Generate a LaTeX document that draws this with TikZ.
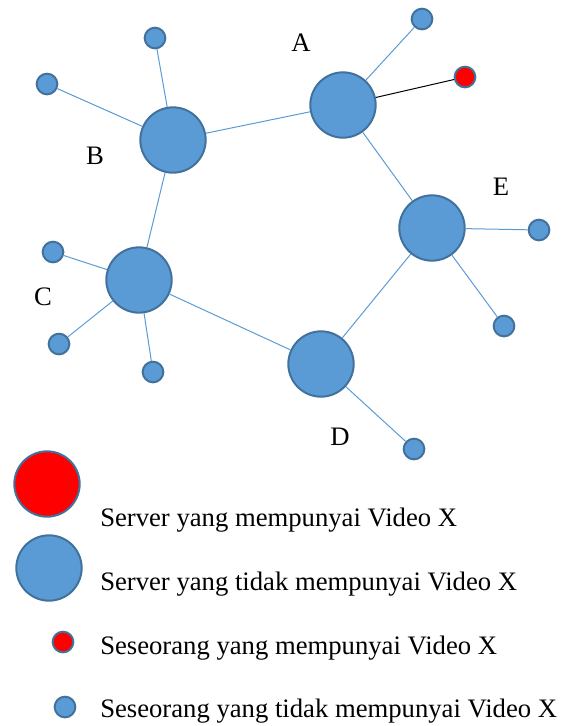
\documentclass[tikz,border=0pt]{standalone}
\usepackage{fontspec}
\setmainfont{Liberation Serif}
\usepackage{tikz}
\usetikzlibrary{positioning}
\definecolor{nodeblue}{HTML}{5B9BD5}
\definecolor{rimblue}{HTML}{41719C}
\definecolor{hasvideo}{HTML}{FF0000}

\tikzset{
  server/.style={circle, draw=rimblue, line width=1.5pt, fill=nodeblue, minimum size=49pt, inner sep=0pt},
  client/.style={circle, draw=rimblue, line width=1.5pt, fill=nodeblue, minimum size=15.5pt, inner sep=0pt},
  owner/.style={fill=hasvideo},
  link/.style={nodeblue, line width=0.75pt},
  label/.style={font=\fontsize{20}{24}\selectfont, inner sep=0pt},
}

\begin{document}
\begin{tikzpicture}[x=0.75pt, y=-0.75pt]
  \useasboundingbox (0,0) rectangle (570,726);

  % servers
  \node[server] (servA) at (343,105) {};
  \node[server] (servB) at (173,140) {};
  \node[server] (servC) at (139,280) {};
  \node[server] (servD) at (321,364) {};
  \node[server] (servE) at (432,228) {};

  % clients round each server
  \node[client] (a1) at (422,19) {};
  \node[client, owner] (a2) at (465,77) {};
  \node[client] (b1) at (155,38) {};
  \node[client] (b2) at (47,84) {};
  \node[client] (c1) at (53,252) {};
  \node[client] (c2) at (59,344) {};
  \node[client] (c3) at (153,372) {};
  \node[client] (d1) at (414,449) {};
  \node[client] (e1) at (539,230) {};
  \node[client] (e2) at (504,326) {};

  % ring of servers
  \draw[link] (servA) -- (servB);
  \draw[link] (servB) -- (servC);
  \draw[link] (servC) -- (servD);
  \draw[link] (servD) -- (servE);
  \draw[link] (servE) -- (servA);

  % server to client links
  \draw[link] (servA) -- (a1);
  \draw[black, line width=0.75pt] (servA) -- (a2);
  \draw[link] (servB) -- (b1);
  \draw[link] (servB) -- (b2);
  \draw[link] (servC) -- (c1);
  \draw[link] (servC) -- (c2);
  \draw[link] (servC) -- (c3);
  \draw[link] (servD) -- (d1);
  \draw[link] (servE) -- (e1);
  \draw[link] (servE) -- (e2);

  % server names
  \node[label] (nameA) at (301,43) {A};
  \node[label] (nameB) at (95,156) {B};
  \node[label] (nameC) at (43,297) {C};
  \node[label] (nameD) at (340,437) {D};
  \node[label] (nameE) at (501,187) {E};

  % legend
  \node[server, owner] (keyA) at (47,484) {};
  \node[server] (keyB) at (49,568) {};
  \node[client, owner] (keyC) at (63,642) {};
  \node[client] (keyD) at (65,707) {};
  \node[label, anchor=west] (textA) at (100,520) {Server yang mempunyai Video X};
  \node[label, anchor=west] (textB) at (100,584) {Server yang tidak mempunyai Video X};
  \node[label, anchor=west] (textC) at (100,648) {Seseorang yang mempunyai Video X};
  \node[label, anchor=west] (textD) at (100,711) {Seseorang yang tidak mempunyai Video X};
\end{tikzpicture}
\end{document}
